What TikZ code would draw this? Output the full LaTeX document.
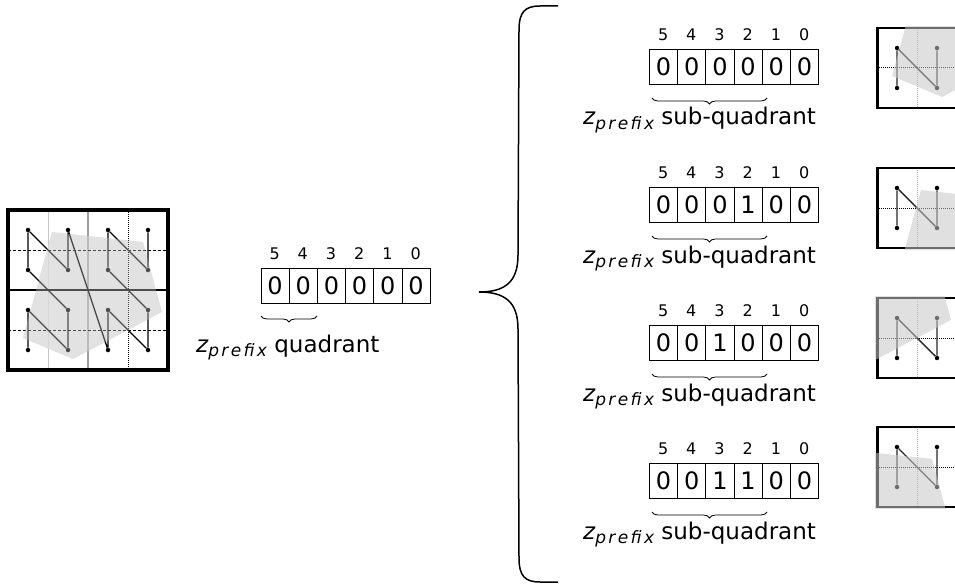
\documentclass[tikz,border=0pt]{standalone}
\usepackage{fontspec}
\setmainfont{DejaVu Sans}
\usetikzlibrary{calc,decorations.pathreplacing}

% italic z with a spaced-out italic subscript
\newcommand\zprefix{{\itshape z}\raisebox{-4.5pt}{\fontsize{17}{17}\selectfont\itshape\addfontfeature{LetterSpace=14}prefix}}

% six-bit register: #1 name prefix, #2 left x, #3 top y, #4 bits (msb first)
\newcommand\bitreg[4]{%
  \foreach \b [count=\i from 0] in {#4} {
    \pgfmathtruncatemacro\bitno{5-\i}
    \node[bitcell, anchor=north west] (#1c\bitno) at (#2+\i*28.2,#3) {\b};
    \node[bitlabel] (#1l\bitno) at (#2+\i*28.2+14.1,#3-14) {\bitno};
  }}

% the shaded region, in the coordinates of the large grid
\newcommand\regionpath{(52,232) -- (143,242) -- (162,312) -- (73,359) -- (23,338) -- cycle}

% magnified quadrant: #1 name, #2 top y, #3 quadrant left x, #4 quadrant top y
\newcommand\quadview[4]{%
  \draw[gray!60, densely dotted, line width=1pt] (917,#2) -- (917,#2+80);
  \draw[densely dotted, line width=1pt] (877,#2+40) -- (957,#2+40);
  \node[gdot] (#1a) at (897,#2+60) {};
  \node[gdot] (#1b) at (897,#2+20) {};
  \node[gdot] (#1c) at (937,#2+60) {};
  \node[gdot] (#1d) at (937,#2+20) {};
  \draw[boxcurve] (#1a) -- (#1b) -- (#1c) -- (#1d);
  \draw[line width=2pt] (877,#2) rectangle (957,#2+80);
  \draw[line width=3pt] (877,#2-1) -- (877,#2+81);
  \begin{scope}
    \clip (875,#2-1.5) rectangle (960,#2+81.5);
    \fill[region, shift={(877-#3,#2-#4)}] \regionpath;
  \end{scope}}

\begin{document}
\begin{tikzpicture}[x=1pt, y=-1pt,
  bitcell/.style={draw, line width=0.8pt, minimum width=28.2pt, minimum height=35pt,
    inner sep=0pt, font=\fontsize{24}{24}\selectfont},
  bitlabel/.style={inner sep=0pt, font=\fontsize{16}{16}\selectfont},
  fieldbrace/.style={decorate, decoration={brace, amplitude=6pt, mirror}, line width=0.8pt},
  caption/.style={anchor=base west, inner sep=0pt, font=\fontsize{23}{23}\selectfont},
  gdot/.style={circle, fill=black, inner sep=0pt, minimum size=4.5pt},
  curve/.style={black, line width=1.3pt},
  boxcurve/.style={black!85, line width=1.4pt},
  region/.style={fill=black!22, fill opacity=0.55},
  regionbase/.style={fill=black!16},
  regionveil/.style={fill=white, fill opacity=0.3},
  bigbrace/.style={line width=1.5pt},
]
\useasboundingbox (0,0) rectangle (955,588);
\begin{scope}
\clip (0,0) rectangle (955,588);

% ---- large 4x4 grid with the N-order curve ----
\fill[regionbase] \regionpath;
\draw[gray!45, line width=1pt] (48,210) -- (48,370);
\draw[gray!75, line width=1.3pt] (88,210) -- (88,370);
\draw[densely dotted, line width=1pt] (128,210) -- (128,370);
\draw[densely dashed, line width=0.9pt] (8,250) -- (168,250);
\draw[densely dashed, line width=0.9pt] (8,330) -- (168,330);
\draw[line width=1.3pt] (8,290) -- (168,290);

\foreach \c [count=\ci from 1] in {28,68,108,148}
  \foreach \r [count=\ri from 1] in {230,270,310,350}
    \node[gdot] (g\ci\ri) at (\c,\r) {};

\draw[curve] (g14) -- (g13) -- (g24) -- (g23) -- (g12) -- (g11) -- (g22) -- (g21)
  -- (g34) -- (g33) -- (g44) -- (g43) -- (g32) -- (g31) -- (g42) -- (g41);

\fill[regionveil] \regionpath;
\draw[line width=3.5pt] (8,210) rectangle (168,370);

% ---- quadrant register ----
\bitreg{q}{260.5}{268}{0,0,0,0,0,0}
\draw[fieldbrace] (261,316) -- (317,316);
\node[caption] (qcap) at (196,352) {\zprefix\ quadrant};

% ---- brace fanning out to the sub-quadrants ----
\draw[bigbrace] (558,6) -- (540,6) .. controls (525,6) and (519,12) .. (519,30)
  -- (518,255) .. controls (518,282) and (505,292) .. (479,292)
  .. controls (505,292) and (518,302) .. (518,329)
  -- (519,558) .. controls (519,576) and (525,582) .. (540,582) -- (558,582);

% ---- sub-quadrant registers ----
\bitreg{sa}{649}{49}{0,0,0,0,0,0}
\draw[fieldbrace] (652,98) -- (767,98);
\node[caption] (sacap) at (583,125) {\zprefix\ sub-quadrant};

\bitreg{sb}{649}{187}{0,0,0,1,0,0}
\draw[fieldbrace] (652,236) -- (767,236);
\node[caption] (sbcap) at (583,263) {\zprefix\ sub-quadrant};

\bitreg{sc}{649}{325}{0,0,1,0,0,0}
\draw[fieldbrace] (652,374) -- (767,374);
\node[caption] (sccap) at (583,401) {\zprefix\ sub-quadrant};

\bitreg{sd}{649}{463}{0,0,1,1,0,0}
\draw[fieldbrace] (652,512) -- (767,512);
\node[caption] (sdcap) at (583,539) {\zprefix\ sub-quadrant};

% ---- magnified quadrants ----
\quadview{va}{28}{8}{290}
\quadview{vb}{168}{8}{210}
\quadview{vc}{298}{88}{290}
\quadview{vd}{427}{88}{210}

\end{scope}
\end{tikzpicture}
\end{document}
